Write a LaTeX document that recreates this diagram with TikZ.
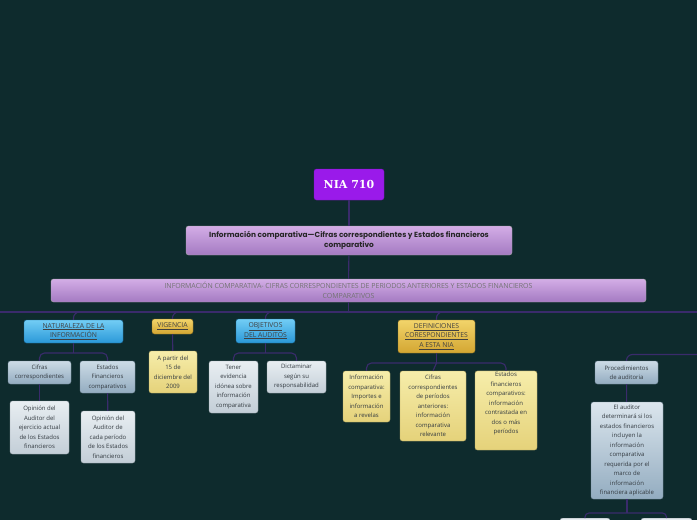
\documentclass[tikz,border=0pt]{standalone}
\usepackage{fontspec}
\setmainfont{Open Sans}
\newfontfamily\headfont{Poppins}
\newfontfamily\niafont{DejaVu Serif}
\usetikzlibrary{calc}
\definecolor{bg}{HTML}{0E2B2D}
\definecolor{connc}{HTML}{3A2B6C}
\definecolor{txt}{HTML}{333A40}
\definecolor{niac}{HTML}{9A1AEA}
\definecolor{lilT}{HTML}{D3ADE6}
\definecolor{lilB}{HTML}{A47AC2}
\definecolor{bluT}{HTML}{72CDF5}
\definecolor{bluB}{HTML}{2A98D8}
\definecolor{golT}{HTML}{F2D46A}
\definecolor{golB}{HTML}{D3A632}
\definecolor{gbT}{HTML}{CCDBE6}
\definecolor{gbB}{HTML}{93ACC0}
\definecolor{lgT}{HTML}{E8EEF2}
\definecolor{lgB}{HTML}{C3CED7}
\definecolor{lyT}{HTML}{F6EDAA}
\definecolor{lyB}{HTML}{E5D27A}
\begin{document}
\begin{tikzpicture}[x=1pt,y=-1pt,
  conn/.style={draw=connc, line width=1.1pt},
  box/.style={rounded corners=2.5pt, align=center, inner sep=1pt, text=txt,
    font=\fontsize{6}{9.5}\selectfont, line width=0.4pt},
  niabox/.style={box, fill=niac, draw=niac!80!black, text=white, font=\niafont\bfseries\fontsize{11}{13}\selectfont},
  lilbox/.style={box, top color=lilT, bottom color=lilB, draw=gray!70},
  hdfont/.style={font=\fontsize{6.8}{9.5}\selectfont},
  blubox/.style={box, top color=bluT, bottom color=bluB, draw=bluB!70!black, text=black!75, hdfont},
  golbox/.style={box, top color=golT, bottom color=golB, draw=golB!70!black, text=black!75, hdfont},
  gbbox/.style={box, top color=gbT, bottom color=gbB, draw=gbB!80!black},
  lgbox/.style={box, top color=lgT, bottom color=lgB, draw=lgB!80!black},
  lybox/.style={box, top color=lyT, bottom color=lyB, draw=lyB!80!black},
]
\useasboundingbox (0,0) rectangle (697,520);
\clip (0,0) rectangle (697,520);
\fill[bg] (0,0) rectangle (697,520);

% nodes
\node[niabox, minimum width=70pt, minimum height=31pt] (nia) at (349,184.5) {NIA 710};
\node[lilbox, minimum width=326pt, minimum height=29pt, font=\headfont\bfseries\fontsize{7.4}{9.5}\selectfont, text=black!85] (info) at (349,240.5)
  {Información comparativa—Cifras correspondientes y Estados financieros\\comparativo};
\node[lilbox, minimum width=595pt, minimum height=23pt, font=\fontsize{7}{9.5}\selectfont, text=black!55] (bar) at (348.5,290.5)
  {INFORMACIÓN COMPARATIVA- CIFRAS CORRESPONDIENTES DE PERIODOS ANTERIORES Y ESTADOS FINANCIEROS\\COMPARATIVOS};

\node[blubox, minimum width=99pt, minimum height=23pt] (nat) at (73.5,331.5)
  {\underline{NATURALEZA DE  LA}\\\underline{INFORMACIÓN}};
\node[golbox, minimum width=41pt, minimum height=15pt] (vig) at (172.5,326.5) {\underline{VIGENCIA}};
\node[blubox, minimum width=59pt, minimum height=24pt] (obj) at (265.5,331)
  {\underline{OBJETIVOS}\\\underline{DEL AUDITOS}};
\node[golbox, minimum width=77pt, minimum height=33pt] (def) at (436.5,336.5)
  {\underline{DEFINICIONES}\\\underline{CORESPONDIENTES}\\\underline{A ESTA NIA}};

\node[gbbox, minimum width=63pt, minimum height=23pt] (cif) at (39.5,372.5) {Cifras\\correspondientes};
\node[gbbox, minimum width=55pt, minimum height=32pt] (est) at (107.5,377) {Estados\\Financieros\\comparativos};
\node[lgbox, minimum width=59pt, minimum height=53pt] (op1) at (39.5,427.5)
  {Opinión del\\Auditor del\\ejercicio actual\\de los Estados\\financieros};
\node[lgbox, minimum width=54pt, minimum height=52pt] (op2) at (108,437)
  {Opinión del\\Auditor de\\cada período\\de los Estados\\financieros};
\node[lybox, minimum width=48pt, minimum height=42pt] (apa) at (173,372)
  {A partir del\\15 de\\diciembre del\\2009};
\node[lgbox, minimum width=49pt, minimum height=52pt] (ten) at (233.5,387)
  {Tener\\evidencia\\idónea sobre\\información\\comparativa};
\node[lgbox, minimum width=59pt, minimum height=32pt] (dic) at (296.5,377)
  {Dictaminar\\según su\\responsabilidad};
\node[lybox, minimum width=47pt, minimum height=51pt] (ic) at (366.5,396.5)
  {Información\\comparativa:\\Importes e\\información\\a revelas};
\node[lybox, minimum width=66pt, minimum height=70pt] (cc) at (433,406)
  {Cifras\\correspondientes\\de períodos\\anteriores:\\información\\comparativa\\relevante};
\node[lybox, minimum width=62pt, minimum height=79pt] (efc) at (506,410.5)
  {Estados\\financieros\\comparativos:\\información\\contrastada en\\dos  o más\\períodos\\[6pt]};
\node[gbbox, minimum width=63pt, minimum height=23pt] (proc) at (626.5,372.5)
  {Procedimientos\\de auditoria};
\node[gbbox, top color=gbT!70!white, minimum width=72pt, minimum height=97pt] (aud) at (627,450.5)
  {El auditor\\determinará si los\\estados financieros\\incluyen la\\información\\comparativa\\requerida por el\\marco de\\información\\financiera aplicable};
\node[lgbox, minimum width=50pt, minimum height=30pt, anchor=north] (ch1) at (585,518) {};
\node[lgbox, minimum width=51pt, minimum height=30pt, anchor=north] (ch2) at (666.5,518) {};

% junction coordinates
\coordinate (spL) at (-5,312);
\coordinate (spR) at (702,312);
\coordinate (sp2R) at (702,354.5);
\coordinate (natJ) at (73.5,353);
\coordinate (objJ) at (265.5,353);
\coordinate (defJ) at (436.5,363);
\coordinate (audJ) at (627,513);

% connectors
\draw[conn] (nia) -- (info);
\draw[conn] (info) -- (bar);
\draw[conn] (bar.south) -- (bar.south |- spL);
\draw[conn] (spL) -- (spR);
\draw[conn, rounded corners=6pt] (nat.north) |- (spR);
\draw[conn, rounded corners=6pt] (vig.north) |- (spR);
\draw[conn, rounded corners=6pt] (obj.north) |- (spR);
\draw[conn, rounded corners=6pt] (def.north) |- (spR);
\draw[conn, rounded corners=6pt] (proc.north) |- (sp2R);

\draw[conn] (nat.south) -- (natJ);
\draw[conn, rounded corners=5pt] (cif.north) |- (natJ) -| (est.north);
\draw[conn] (cif) -- (op1);
\draw[conn] (est) -- (op2);
\draw[conn] (vig) -- (apa);
\draw[conn] (obj.south) -- (objJ);
\draw[conn, rounded corners=5pt] (ten.north) |- (objJ) -| (dic.north);
\draw[conn] (def.south) -- (defJ);
\draw[conn, rounded corners=5pt] (ic.north) |- (defJ) -| (efc.north);
\draw[conn] (defJ) -- (cc.north);
\draw[conn] (proc) -- (aud);
\draw[conn] (aud.south) -- (audJ);
\draw[conn, rounded corners=4pt] (ch1.north) |- (audJ) -| (ch2.north);
\end{tikzpicture}
\end{document}
